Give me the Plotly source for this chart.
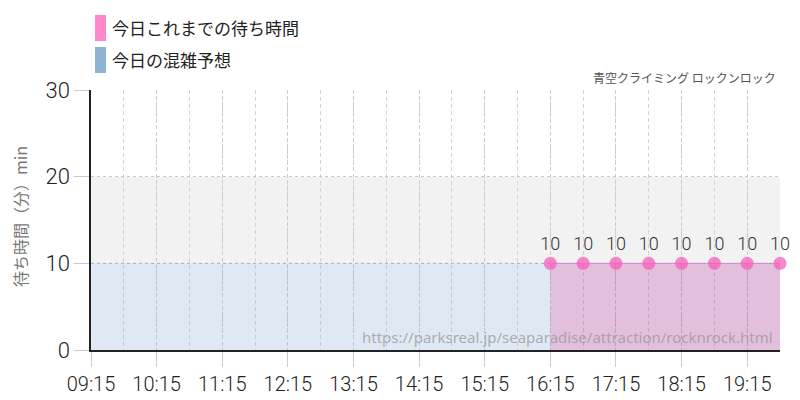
import plotly.graph_objects as go

DAY = "2024-01-01 "

forecast_times = ["09:15", "09:45", "10:15", "10:45", "11:15", "11:45", "12:15", "12:45",
                  "13:15", "13:45", "14:15", "14:45", "15:15", "15:45", "16:15"]
forecast_wait = [10, 10, 10, 10, 10, 10, 10, 10, 10, 10, 10, 10, 10, 10, 10]

actual_times = ["16:15", "16:45", "17:15", "17:45", "18:15", "18:45", "19:15", "19:45"]
actual_wait = [10, 10, 10, 10, 10, 10, 10, 10]

tick_labels = ["09:15", "10:15", "11:15", "12:15", "13:15", "14:15", "15:15", "16:15",
               "17:15", "18:15", "19:15"]

NUM_FONT = "Roboto, sans-serif"
JP_FONT = "Noto Sans CJK JP, sans-serif"

fig = go.Figure()

fig.add_trace(go.Scatter(
    x=[DAY + t for t in forecast_times], y=forecast_wait,
    mode="lines", fill="tozeroy", fillcolor="rgba(148,182,215,0.3)",
    line=dict(color="#9ab8d6", width=1, dash="dot"),
    showlegend=False, hoverinfo="skip",
))

fig.add_trace(go.Scatter(
    x=[DAY + t for t in actual_times], y=actual_wait,
    mode="lines+markers+text", fill="tozeroy", fillcolor="rgba(172,75,158,0.35)",
    line=dict(color="#c890c0", width=1),
    marker=dict(color="rgba(245,95,185,0.75)", size=13),
    text=[str(v) for v in actual_wait], textposition="top center",
    textfont=dict(family=NUM_FONT, size=18, color="#333", weight=300),
    cliponaxis=False, showlegend=False,
))

# gray band between 10 and 20
fig.add_shape(type="rect", xref="paper", yref="y", x0=0, x1=1, y0=10, y1=20,
              fillcolor="#f2f2f2", line_width=0, layer="below")

# legend drawn by hand (positions in screen px: plot spans x 91-780, y 90-350)
legend_items = [("今日これまでの待ち時間", "#ff88cc"), ("今日の混雑予想", "#8fb4d3")]
for i, (name, col) in enumerate(legend_items):
    y0 = 15 + i * 32
    fig.add_shape(type="rect", xref="paper", yref="paper",
                  x0=(95 - 91) / 689, x1=(106 - 91) / 689,
                  y0=(350 - (y0 + 26)) / 260, y1=(350 - y0) / 260,
                  fillcolor=col, line_width=0)
    fig.add_annotation(text=name, xref="paper", yref="paper",
                       x=(110 - 91) / 689, y=(350 - (y0 + 13)) / 260,
                       xanchor="left", yanchor="middle", showarrow=False,
                       font=dict(family=JP_FONT, size=17, color="#222"))

fig.add_annotation(text="青空クライミング ロックンロック", xref="paper", yref="paper",
                   x=(778 - 91) / 689, y=(350 - 78) / 260, xanchor="right", yanchor="middle",
                   showarrow=False, font=dict(family=JP_FONT, size=12, color="#555"))

fig.add_annotation(text="待ち時間（分）min", xref="paper", yref="paper",
                   x=(20 - 91) / 689, y=(350 - 217) / 260, xanchor="center", yanchor="middle",
                   textangle=-90, showarrow=False,
                   font=dict(family=JP_FONT, size=16, color="#777"))

fig.add_annotation(text="https://parksreal.jp/seaparadise/attraction/rocknrock.html",
                   xref="paper", yref="paper", x=(775 - 91) / 689, y=(350 - 337) / 260,
                   xanchor="right", yanchor="middle", showarrow=False,
                   font=dict(family="Noto Sans, sans-serif", size=15, color="rgba(150,150,150,0.75)"))

# page body has an 8px margin, so the figure is offset by (8, 8)
fig.update_layout(
    width=800, height=400,
    margin=dict(l=83, r=28, t=82, b=58),
    paper_bgcolor="white", plot_bgcolor="white",
    xaxis=dict(
        type="date", automargin=False,
        range=[DAY + "09:15", DAY + "19:45"],
        tickvals=[DAY + t for t in tick_labels], ticktext=tick_labels,
        showgrid=True, gridcolor="#cccccc", griddash="dot", gridwidth=1,
        minor=dict(dtick=1800000, tick0=DAY + "09:45", showgrid=True,
                   gridcolor="#d4d4d4", griddash="4px,3px", gridwidth=1),
        ticks="outside", ticklen=15, tickcolor="#cccccc",
        showline=True, linecolor="#222", linewidth=1.5,
        tickfont=dict(family=NUM_FONT, size=20, color="#222", weight=300),
        zeroline=False, fixedrange=True,
    ),
    yaxis=dict(
        range=[0, 30], tickvals=[0, 10, 20, 30], automargin=False,
        showgrid=True, gridcolor="#c8c8c8", griddash="dot", gridwidth=1,
        ticks="outside", ticklen=15, tickcolor="#cccccc",
        showline=True, linecolor="#222", linewidth=1.5,
        tickfont=dict(family=NUM_FONT, size=22, color="#222", weight=300),
        zeroline=False, fixedrange=True,
    ),
)

fig.write_html("out.html")
